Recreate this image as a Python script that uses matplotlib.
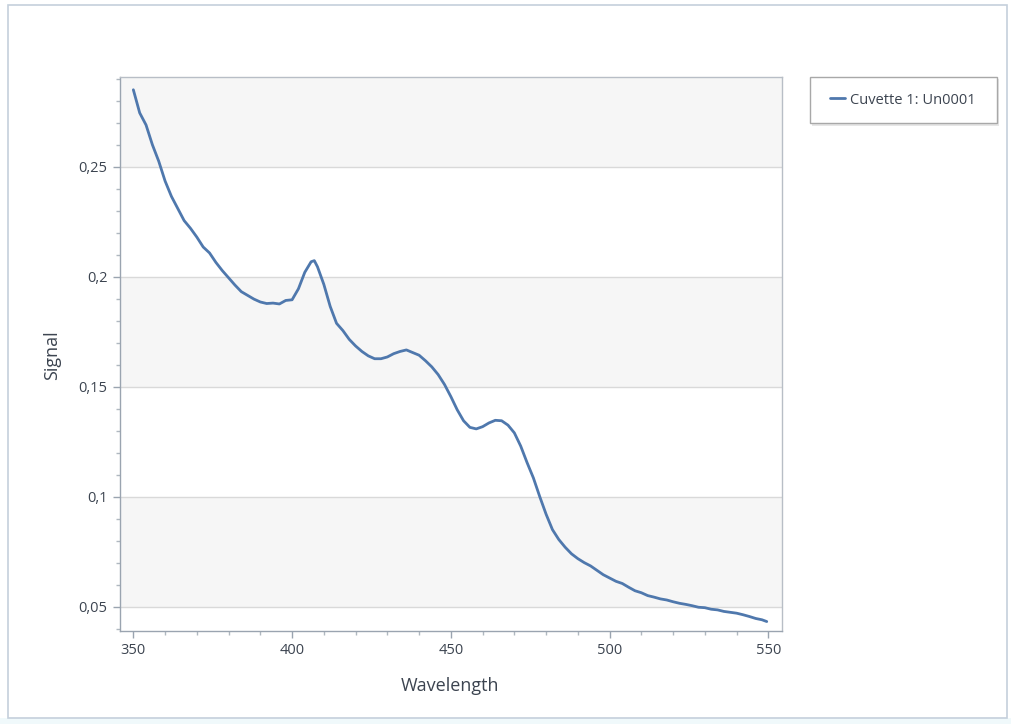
import matplotlib
matplotlib.use("Agg")
import matplotlib.pyplot as plt
from matplotlib.patches import Rectangle
from matplotlib.ticker import MultipleLocator, FuncFormatter

wavelength = [350, 352, 354, 356, 358, 360, 362, 364, 366, 368, 370, 372, 374, 376, 378,
              380, 382, 384, 386, 388, 390, 392, 394, 396, 398, 400, 402, 404, 406, 407,
              408, 410, 412, 414, 416, 418, 420, 422, 424, 426, 428, 430, 432, 434, 436,
              438, 440, 442, 444, 446, 448, 450, 452, 454, 456, 458, 460, 462, 464, 466,
              468, 470, 472, 474, 476, 478, 480, 482, 484, 486, 488, 490, 492, 494, 496,
              498, 500, 502, 504, 506, 508, 510, 512, 514, 516, 518, 520, 522, 524, 526,
              528, 530, 532, 534, 536, 538, 540, 542, 544, 546, 548, 549.5]
signal = [0.2850, 0.2745, 0.2690, 0.2600, 0.2525, 0.2435, 0.2365, 0.2310, 0.2255, 0.2220,
          0.2180, 0.2135, 0.2108, 0.2065, 0.2028, 0.1995, 0.1962, 0.1932, 0.1915, 0.1898,
          0.1885, 0.1878, 0.1880, 0.1876, 0.1892, 0.1895, 0.1945, 0.2020, 0.2068, 0.2073,
          0.2045, 0.1965, 0.1865, 0.1788, 0.1755, 0.1715, 0.1685, 0.1660, 0.1640, 0.1627,
          0.1627, 0.1635, 0.1650, 0.1660, 0.1667, 0.1655, 0.1643, 0.1618, 0.1590, 0.1555,
          0.1510, 0.1455, 0.1395, 0.1345, 0.1315, 0.1308, 0.1318, 0.1335, 0.1347, 0.1345,
          0.1325, 0.1290, 0.1230, 0.1155, 0.1085, 0.1000, 0.0920, 0.0850, 0.0805, 0.0770,
          0.0740, 0.0718, 0.0700, 0.0685, 0.0665, 0.0645, 0.0630, 0.0615, 0.0605, 0.0588,
          0.0572, 0.0563, 0.0550, 0.0543, 0.0535, 0.0530, 0.0522, 0.0515, 0.0510, 0.0504,
          0.0497, 0.0495, 0.0488, 0.0485, 0.0478, 0.0474, 0.0470, 0.0463, 0.0455, 0.0446,
          0.0440, 0.0432]
series_label = "Cuvette 1: Un0001"
x_label = "Wavelength"
y_label = "Signal"
x_ticks = [350, 400, 450, 500, 550]
y_ticks = [0.05, 0.1, 0.15, 0.2, 0.25]

plt.rcParams['font.family'] = ['Open Sans', 'DejaVu Sans']

W, H = 1011, 724
fig = plt.figure(figsize=(W / 100, H / 100), dpi=100)
fig.patch.set_facecolor("white")

# outer frame of the screenshot
fig.add_artist(Rectangle((0, 0), 1, 6 / H, transform=fig.transFigure,
                         facecolor="#f0f9fb", edgecolor="none", zorder=-3))
fig.add_artist(Rectangle((8 / W, 6 / H), (1007 - 8) / W, (719 - 6) / H, transform=fig.transFigure,
                         facecolor="white", edgecolor="#c5d0dc", linewidth=1.2, zorder=-3))
# legend box with soft shadow
fig.add_artist(Rectangle((812 / W, 1 - 126 / H), 187 / W, 47 / H, transform=fig.transFigure,
                         facecolor="#e6e6e6", edgecolor="none", zorder=-2))
fig.add_artist(Rectangle((810 / W, 1 - 123 / H), 187 / W, 46 / H, transform=fig.transFigure,
                         facecolor="white", edgecolor="#a8a8a8", linewidth=1.0, zorder=-1))

ax = fig.add_axes([120 / W, 1 - 631 / H, (782 - 120) / W, (631 - 77) / H])
ax.set_xlim(345.8, 554.3)
ax.set_ylim(0.0389, 0.2908)

# alternating bands
band_color = "#f6f6f6"
for lo, hi in [(0.05, 0.1), (0.15, 0.2), (0.25, 0.2908)]:
    ax.axhspan(lo, hi, color=band_color, zorder=0, linewidth=0)
for yv in y_ticks:
    ax.axhline(yv, color="#d9d9d9", linewidth=1.0, zorder=1)

line_color = "#4f78ad"
ax.plot(wavelength, signal, color=line_color, linewidth=2.0, zorder=3, label=series_label,
        solid_joinstyle="round", solid_capstyle="round")

ax.set_xticks(x_ticks)
ax.set_yticks(y_ticks)
ax.xaxis.set_minor_locator(MultipleLocator(10))
ax.yaxis.set_minor_locator(MultipleLocator(0.01))
ax.yaxis.set_major_formatter(FuncFormatter(lambda v, p: ("%g" % round(v, 3)).replace(".", ",")))

for s in ax.spines.values():
    s.set_color("#b8bec6")
    s.set_linewidth(1.0)
ax.spines["left"].set_color("#9aa4b0")
ax.spines["bottom"].set_color("#9aa4b0")

ax.tick_params(axis="both", which="major", length=5, width=1, color="#9aa4b0",
               labelsize=10.5, labelcolor="#3c4450", pad=4)
ax.tick_params(axis="both", which="minor", length=3, width=1, color="#b0b8c0")

fig.text(450 / W, 1 - 686 / H, x_label, ha="center", va="center", fontsize=13, color="#3c4450")
fig.text(52 / W, 1 - 355 / H, y_label, ha="center", va="center", fontsize=13, color="#3c4450",
         rotation=90)

leg = fig.legend(loc="center left", bbox_to_anchor=(830 / W, 1 - 100 / H),
                 bbox_transform=fig.transFigure, borderaxespad=0, borderpad=0,
                 frameon=False, fontsize=10.5, handlelength=1.05, handletextpad=0.3,
                 labelcolor="#3c4450")

fig.savefig("out.png", dpi=100, facecolor=fig.get_facecolor())
